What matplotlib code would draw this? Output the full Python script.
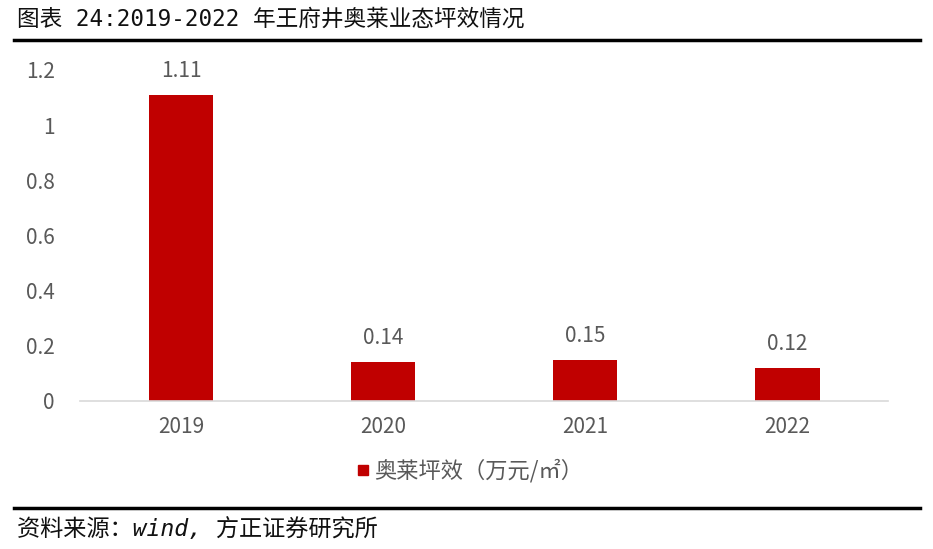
import matplotlib
matplotlib.use('Agg')
import matplotlib.pyplot as plt
from matplotlib.lines import Line2D

plt.rcParams['font.family'] = ['Noto Sans CJK SC', 'DejaVu Sans']

# data
years = ['2019', '2020', '2021', '2022']
values = [1.11, 0.14, 0.15, 0.12]
yticks = [0, 0.2, 0.4, 0.6, 0.8, 1, 1.2]
ytick_labels = ['0', '0.2', '0.4', '0.6', '0.8', '1', '1.2']
series_name = '奥莱坪效（万元/㎡）'
title = '图表 24:2019-2022 年王府井奥莱业态坪效情况'
source = '资料来源：wind, 方正证券研究所'

bar_color = '#C00000'
grey = '#595959'
fs = 15
head_font = ['DejaVu Sans Mono', 'Noto Sans CJK SC']

fig = plt.figure(figsize=(9.33, 5.49), dpi=100)
ax = fig.add_axes([0.0857, 0.2696, 0.8663, 0.6029])

x = list(range(len(years)))
ax.bar(x, values, width=0.32, color=bar_color, zorder=2)
for xi, v in zip(x, values):
    ax.text(xi, v + 0.047, '%.2f' % v, ha='center', va='bottom', fontsize=fs,
            color=grey, fontweight='light')

ax.set_xlim(-0.5, 3.5)
ax.set_ylim(0, 1.2)
ax.set_xticks(x)
ax.set_xticklabels(years, fontsize=fs, color=grey, fontweight='light')
ax.set_yticks(yticks)
ax.set_yticklabels(ytick_labels, fontsize=fs, color=grey, fontweight='light')
ax.tick_params(axis='x', length=0, pad=11)
ax.tick_params(axis='y', length=0, pad=18)
for s in ['top', 'right', 'left']:
    ax.spines[s].set_visible(False)
ax.spines['bottom'].set_color('#D9D9D9')
ax.spines['bottom'].set_linewidth(1.2)

# legend
handle = Line2D([], [], marker='s', color=bar_color, linestyle='none', markersize=7)
fig.legend([handle], [series_name], loc='center', bbox_to_anchor=(0.5, 0.142),
           frameon=False, handletextpad=-0.1, handlelength=1.2, labelcolor=grey,
           prop={'size': 16, 'weight': 'light'})

# title and separators
fig.text(0.018, 0.965, title, fontsize=16.3, ha='left', va='center', color='#111111',
         family=head_font)
fig.add_artist(Line2D([0.015, 0.986], [0.927, 0.927], color='black', lw=2.5))
fig.add_artist(Line2D([0.015, 0.986], [0.075, 0.075], color='black', lw=2.5))
fig.text(0.018, 0.036, source, fontsize=16.7, ha='left', va='center', style='italic',
         color='#111111', family=head_font)

fig.savefig('out.png', dpi=100)
